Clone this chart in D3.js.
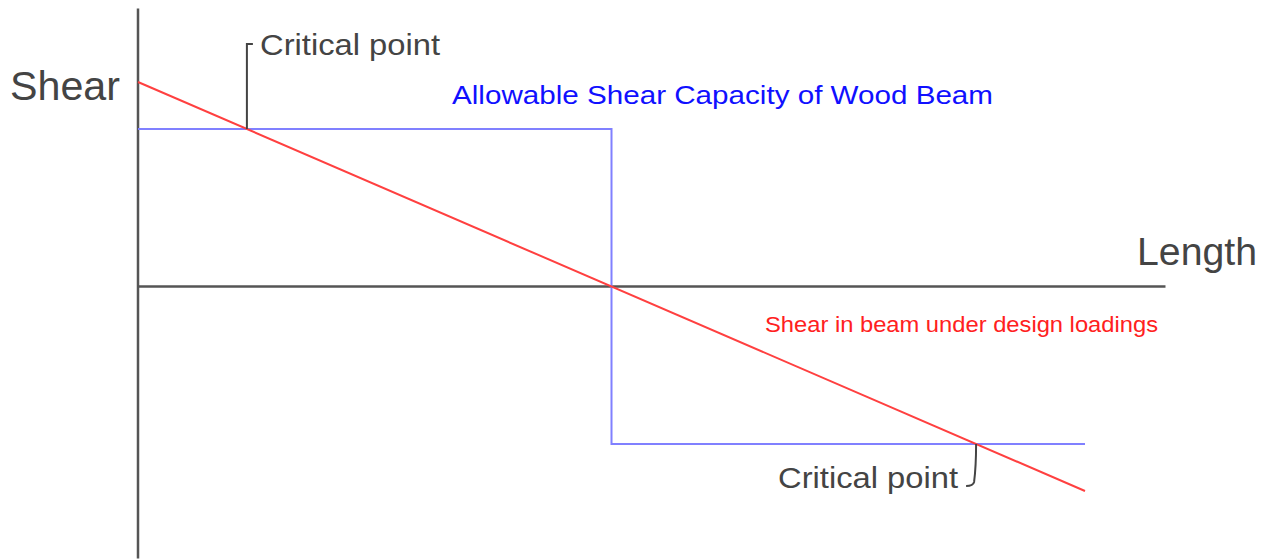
<!DOCTYPE html>
<html>
  <head>
    <style>
      body,
      html {
        margin: 0;
        padding: 0;
        background: #fff;
      }
      text {
        font-family: 'Liberation Sans', Arial, sans-serif;
      }
    </style>
  </head>
  <body>
    <svg id="svg" width="1267" height="559"></svg>
    <script src="https://cdn.jsdelivr.net/npm/d3@7"></script>
    <script>
      // beam length runs 0..1, shear normalised to the end reaction
      const shearX = [0, 1];
      const shearY = [1, -1];
      const capacityX = [0, 0.5, 1];
      const capacityY = [0.77, -0.77, -0.77];
      const axisXExtent = [0, 1.085];
      const axisYExtent = [-1.33, 1.36];

      const width = 1267;
      const height = 559;
      const svg = d3.select('#svg');

      const x = d3.scaleLinear().domain([0, 1]).range([138, 1085]);
      const y = d3.scaleLinear().domain([-1, 1]).range([491, 82]);

      // axes (plain lines, no ticks)
      svg
        .append('line')
        .attr('x1', x(0))
        .attr('x2', x(0))
        .attr('y1', y(axisYExtent[1]))
        .attr('y2', y(axisYExtent[0]))
        .attr('stroke', '#555')
        .attr('stroke-width', 2.5);
      svg
        .append('line')
        .attr('x1', x(axisXExtent[0]))
        .attr('x2', x(axisXExtent[1]))
        .attr('y1', y(0))
        .attr('y2', y(0))
        .attr('stroke', '#555')
        .attr('stroke-width', 2.5);

      // allowable capacity step line
      const capLine = d3
        .line()
        .x((d) => x(d[0]))
        .y((d) => y(d[1]))
        .curve(d3.curveStepAfter);
      svg
        .append('path')
        .attr('d', capLine(d3.zip(capacityX, capacityY)))
        .attr('fill', 'none')
        .attr('stroke', '#8080ff')
        .attr('stroke-width', 2);

      // shear diagram
      const shearLine = d3
        .line()
        .x((d) => x(d[0]))
        .y((d) => y(d[1]));
      svg
        .append('path')
        .attr('d', shearLine(d3.zip(shearX, shearY)))
        .attr('fill', 'none')
        .attr('stroke', '#ff4040')
        .attr('stroke-width', 2);

      // critical points where shear meets capacity
      const c1 = (shearY[0] - capacityY[0]) / (shearY[0] - shearY[1]);
      const c2 = (shearY[0] - capacityY[2]) / (shearY[0] - shearY[1]);
      const leader = svg.append('g').attr('fill', 'none').attr('stroke', '#444').attr('stroke-width', 2);
      leader
        .append('path')
        .attr('d', `M${x(c1)},${y(capacityY[0])} V44 H${x(c1) + 6}`);
      const bx = x(c2);
      const by = y(capacityY[2]);
      leader
        .append('path')
        .attr('d', `M${bx},${by} C${bx},${by + 15} ${bx - 1},${by + 30} ${bx - 2},${by + 38} Q${bx - 3},${by + 42} ${bx - 10},${by + 42}`);

      const labels = [
        { t: 'Shear', x: 10, y: 100, size: 40, len: 110, fill: '#444' },
        { t: 'Length', x: 1137, y: 265, size: 38, len: 120, fill: '#444' },
        { t: 'Critical point', x: 260, y: 55, size: 30, len: 180, fill: '#444' },
        { t: 'Critical point', x: 778, y: 488, size: 30, len: 180, fill: '#444' },
        { t: 'Allowable Shear Capacity of Wood Beam', x: 452, y: 104, size: 26, len: 541, fill: '#1010ff' },
        { t: 'Shear in beam under design loadings', x: 765, y: 332, size: 22, len: 393, fill: '#ff2020' },
      ];
      svg
        .selectAll('text.lbl')
        .data(labels)
        .enter()
        .append('text')
        .attr('class', 'lbl')
        .attr('x', (d) => d.x)
        .attr('y', (d) => d.y)
        .attr('font-size', (d) => d.size)
        .attr('textLength', (d) => d.len)
        .attr('lengthAdjust', 'spacingAndGlyphs')
        .attr('fill', (d) => d.fill)
        .text((d) => d.t);
    </script>
  </body>
</html>
